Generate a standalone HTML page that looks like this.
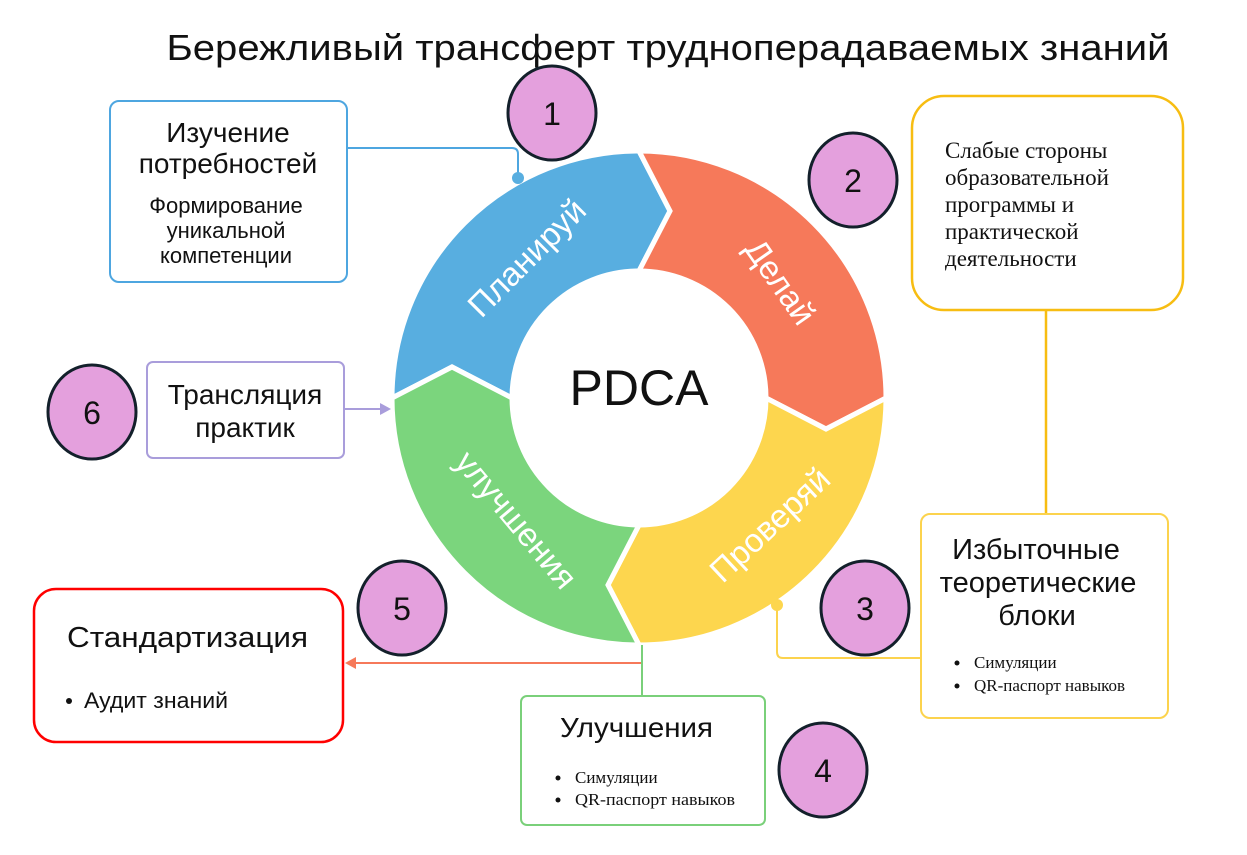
<!DOCTYPE html>
<html><head><meta charset="utf-8"><style>
html,body{margin:0;padding:0;background:#fff;width:1247px;height:855px;overflow:hidden}
svg{display:block}
.s{font-family:"Liberation Sans","DejaVu Sans",sans-serif}
.r{font-family:"Liberation Serif",serif}
</style></head><body>
<svg width="1247" height="855" viewBox="0 0 1247 855" xmlns="http://www.w3.org/2000/svg">
<text x="668" y="60" class="s" font-size="36" text-anchor="middle" textLength="1003" lengthAdjust="spacingAndGlyphs" fill="#111">Бережливый трансферт трудноперадаваемых знаний</text>

<!-- ring -->
<g stroke="#fff" stroke-width="5" stroke-linejoin="miter">
<path fill="#58aee0" d="M392,398 A247,247 0 0 1 639,151 L670,211 L639,271 A127,127 0 0 0 512,398 L452,367 Z"/>
<path fill="#f6795a" d="M639,151 A247,247 0 0 1 886,398 L826,429 L766,398 A127,127 0 0 0 639,271 L670,211 Z"/>
<path fill="#fdd64e" d="M886,398 A247,247 0 0 1 639,645 L608,585 L639,525 A127,127 0 0 0 766,398 L826,429 Z"/>
<path fill="#7bd57d" d="M639,645 A247,247 0 0 1 392,398 L452,367 L512,398 A127,127 0 0 0 639,525 L608,585 Z"/>
</g>
<g class="s" font-size="33" fill="#fff" text-anchor="middle">
<text transform="translate(527,258) rotate(-45)" y="11">Планируй</text>
<text transform="translate(780,282) rotate(55)" y="11">Делай</text>
<text transform="translate(770,525) rotate(-43)" y="11">Проверяй</text>
<text transform="translate(516,520) rotate(50)" y="11">улучшения</text>
</g>
<text x="639" y="405" class="s" font-size="50" text-anchor="middle" fill="#111">PDCA</text>

<!-- connectors -->
<path d="M347,148 H512 Q518,148 518,154 V178" fill="none" stroke="#4ea6e0" stroke-width="2"/>
<circle cx="518" cy="178" r="6" fill="#58aee0"/>
<line x1="1046" y1="310" x2="1046" y2="515" stroke="#f7bd12" stroke-width="2.5"/>
<path d="M777,605 V652 Q777,658 783,658 H921" fill="none" stroke="#fcd34d" stroke-width="2"/>
<circle cx="777" cy="605" r="6" fill="#fdd64e"/>
<line x1="344" y1="409" x2="382" y2="409" stroke="#a99ddb" stroke-width="2"/>
<path d="M380,403 L391,409 L380,415 Z" fill="#a99ddb"/>
<line x1="642" y1="663" x2="354" y2="663" stroke="#f6795a" stroke-width="2"/>
<path d="M356,657 L345,663 L356,669 Z" fill="#f6795a"/>
<line x1="642" y1="645" x2="642" y2="697" stroke="#7ad07a" stroke-width="2"/>

<!-- boxes -->
<rect x="110" y="101" width="237" height="181" rx="9" fill="#fff" stroke="#4ea6e0" stroke-width="2"/>
<g class="s" fill="#111" text-anchor="middle">
<text x="228" y="142" font-size="28">Изучение</text>
<text x="228" y="173" font-size="28">потребностей</text>
<text x="226" y="213" font-size="22">Формирование</text>
<text x="226" y="238" font-size="22">уникальной</text>
<text x="226" y="263" font-size="22">компетенции</text>
</g>

<rect x="912" y="96" width="271" height="214" rx="32" fill="#fff" stroke="#f7bd12" stroke-width="2.5"/>
<g class="r" font-size="23" fill="#111">
<text x="945" y="158">Слабые стороны</text>
<text x="945" y="185">образовательной</text>
<text x="945" y="212">программы и</text>
<text x="945" y="239">практической</text>
<text x="945" y="266">деятельности</text>
</g>

<rect x="921" y="514" width="247" height="204" rx="9" fill="#fff" stroke="#fcd34d" stroke-width="2"/>
<g class="s" font-size="29" fill="#111" text-anchor="middle">
<text x="1036" y="559">Избыточные</text>
<text x="1038" y="592">теоретические</text>
<text x="1037" y="625">блоки</text>
</g>
<g class="r" font-size="17" fill="#111">
<circle cx="957" cy="663" r="2.5"/><text x="974" y="668">Симуляции</text>
<circle cx="957" cy="686" r="2.5"/><text x="974" y="691">QR-паспорт навыков</text>
</g>

<rect x="147" y="362" width="197" height="96" rx="6" fill="#fff" stroke="#a99ddb" stroke-width="2"/>
<g class="s" font-size="28" fill="#111" text-anchor="middle">
<text x="245" y="404">Трансляция</text>
<text x="245" y="437">практик</text>
</g>

<rect x="34" y="589" width="309" height="153" rx="22" fill="#fff" stroke="#f00" stroke-width="2.5"/>
<text x="67" y="647" class="s" font-size="29" fill="#111" textLength="241" lengthAdjust="spacingAndGlyphs">Стандартизация</text>
<circle cx="69" cy="701" r="3" fill="#111"/>
<text x="84" y="708" class="s" font-size="22" fill="#111" textLength="144" lengthAdjust="spacingAndGlyphs">Аудит знаний</text>

<rect x="521" y="696" width="244" height="129" rx="6" fill="#fff" stroke="#7ad07a" stroke-width="2"/>
<text x="560" y="737" class="s" font-size="28" fill="#111" textLength="153" lengthAdjust="spacingAndGlyphs">Улучшения</text>
<g class="r" font-size="17" fill="#111">
<circle cx="558" cy="778" r="2.5"/><text x="575" y="783">Симуляции</text>
<circle cx="558" cy="800" r="2.5"/><text x="575" y="805" textLength="160" lengthAdjust="spacingAndGlyphs">QR-паспорт навыков</text>
</g>

<!-- numbered circles -->
<g fill="#e4a0dd" stroke="#13202b" stroke-width="3">
<ellipse cx="552" cy="113" rx="44" ry="47"/>
<ellipse cx="853" cy="180" rx="44" ry="47"/>
<ellipse cx="865" cy="608" rx="44" ry="47"/>
<ellipse cx="823" cy="770" rx="44" ry="47"/>
<ellipse cx="402" cy="608" rx="44" ry="47"/>
<ellipse cx="92" cy="412" rx="44" ry="47"/>
</g>
<g class="s" font-size="32" fill="#111" text-anchor="middle">
<text x="552" y="125">1</text>
<text x="853" y="192">2</text>
<text x="865" y="620">3</text>
<text x="823" y="782">4</text>
<text x="402" y="620">5</text>
<text x="92" y="424">6</text>
</g>
</svg>
</body></html>
